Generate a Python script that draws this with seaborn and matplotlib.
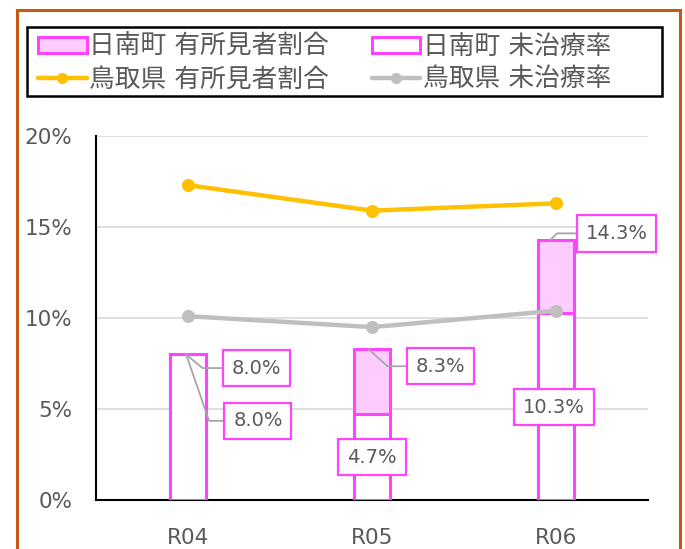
import matplotlib
matplotlib.use("Agg")
import matplotlib.pyplot as plt
import seaborn as sns
from matplotlib.patches import Patch, Rectangle
from matplotlib.lines import Line2D

# ---- data ----
categories = ["R04", "R05", "R06"]
town_finding = [8.0, 8.3, 14.3]      # 日南町 有所見者割合
town_untreated = [8.0, 4.7, 10.3]    # 日南町 未治療率
pref_finding = [17.3, 15.9, 16.3]    # 鳥取県 有所見者割合
pref_untreated = [10.1, 9.5, 10.4]   # 鳥取県 未治療率
yticks = [0, 5, 10, 15, 20]
series_names = ["日南町 有所見者割合", "日南町 未治療率", "鳥取県 有所見者割合", "鳥取県 未治療率"]

sns.set_style("white")
plt.rcParams['font.family'] = ['DejaVu Sans', 'Noto Sans CJK JP']

MAG = "#FF44FF"
PINK = "#FFCCFF"
ORANGE = "#FFC000"
GRAY = "#BFBFBF"
TXT = "#595959"

fig = plt.figure(figsize=(6.85, 5.49), dpi=100)
ax = fig.add_axes([96/685, 49/549, 552/685, 364/549])

sns.barplot(x=categories, y=town_finding, color=PINK, edgecolor=MAG, linewidth=2.2,
            width=0.2, saturation=1, ax=ax, zorder=2)
sns.barplot(x=categories, y=town_untreated, color="white", edgecolor=MAG, linewidth=2.2,
            width=0.2, saturation=1, ax=ax, zorder=3)
sns.pointplot(x=categories, y=pref_finding, color=ORANGE, markers="o", linestyles="-",
              linewidth=3.2, markersize=7, errorbar=None, ax=ax)
sns.pointplot(x=categories, y=pref_untreated, color=GRAY, markers="o", linestyles="-",
              linewidth=3.2, markersize=7, errorbar=None, ax=ax)
for ln in ax.lines:
    ln.set_zorder(5)

ax.set_ylim(0, 20)
ax.set_xlim(-0.5, 2.5)
ax.set_yticks(yticks)
ax.set_yticklabels([f"{v}%" for v in yticks])
ax.yaxis.grid(True, color="#D9D9D9", linewidth=1.2, zorder=0)
ax.set_axisbelow(True)
for s in ["top", "right"]:
    ax.spines[s].set_visible(False)
for s in ["left", "bottom"]:
    ax.spines[s].set_color("black")
    ax.spines[s].set_linewidth(1.5)
ax.tick_params(axis="both", length=0, labelsize=15.5, labelcolor=TXT)
ax.tick_params(axis="x", pad=20)
ax.tick_params(axis="y", pad=17)
ax.set_xlabel("")
ax.set_ylabel("")

def label(text, xy, xytext, angB=None):
    ap = None
    if angB is not None:
        ap = dict(arrowstyle="-", color="#A6A6A6", lw=1.3, shrinkA=0, shrinkB=0,
                  connectionstyle=f"angle,angleA=0,angleB={angB},rad=0")
    ax.annotate(text, xy=xy, xytext=xytext, ha="center", va="center", fontsize=14,
                color=TXT, zorder=10,
                bbox=dict(boxstyle="square,pad=0.45", fc="white", ec=MAG, lw=1.6),
                arrowprops=ap)

label(f"{town_finding[0]:.1f}%", (-0.01, town_finding[0]), (0.37, 7.25), -40)
label(f"{town_untreated[0]:.1f}%", (-0.01, town_untreated[0]), (0.38, 4.35), -71)
label(f"{town_finding[1]:.1f}%", (0.98, town_finding[1]), (1.37, 7.35), -42)
label(f"{town_untreated[1]:.1f}%", (1.0, town_untreated[1]), (1.0, 2.35))
label(f"{town_finding[2]:.1f}%", (1.97, town_finding[2]), (2.33, 14.65), 45)
label(f"{town_untreated[2]:.1f}%", (2.0, town_untreated[2]), (1.99, 5.1))

handles = [
    Patch(facecolor=PINK, edgecolor=MAG, linewidth=2.2),
    Patch(facecolor="white", edgecolor=MAG, linewidth=2.2),
    Line2D([], [], color=ORANGE, lw=3.2, marker="o", markersize=7),
    Line2D([], [], color=GRAY, lw=3.2, marker="o", markersize=7),
]
order = [0, 2, 1, 3]
leg = fig.legend([handles[i] for i in order], [series_names[i] for i in order],
                 ncol=2, loc="upper left",
                 bbox_to_anchor=(38/685, 1 - 34/549),
                 fontsize=18.5, frameon=False, handlelength=1.9, handleheight=0.6,
                 handletextpad=0.1, columnspacing=1.65, labelspacing=0.25,
                 borderpad=0.0, borderaxespad=0)
for t in leg.get_texts():
    t.set_color(TXT)

fig.patches.append(Rectangle((27/685, 1 - 96/549), 635/685, 69/549, transform=fig.transFigure,
                             fill=False, edgecolor="black", linewidth=1.8, zorder=1))
fig.patches.append(Rectangle((17/685, -0.1), 663/685, 1.1 - 10/549, transform=fig.transFigure,
                             fill=False, edgecolor="#C55A11", linewidth=2.2, zorder=0))

fig.savefig("out.png", dpi=100)
